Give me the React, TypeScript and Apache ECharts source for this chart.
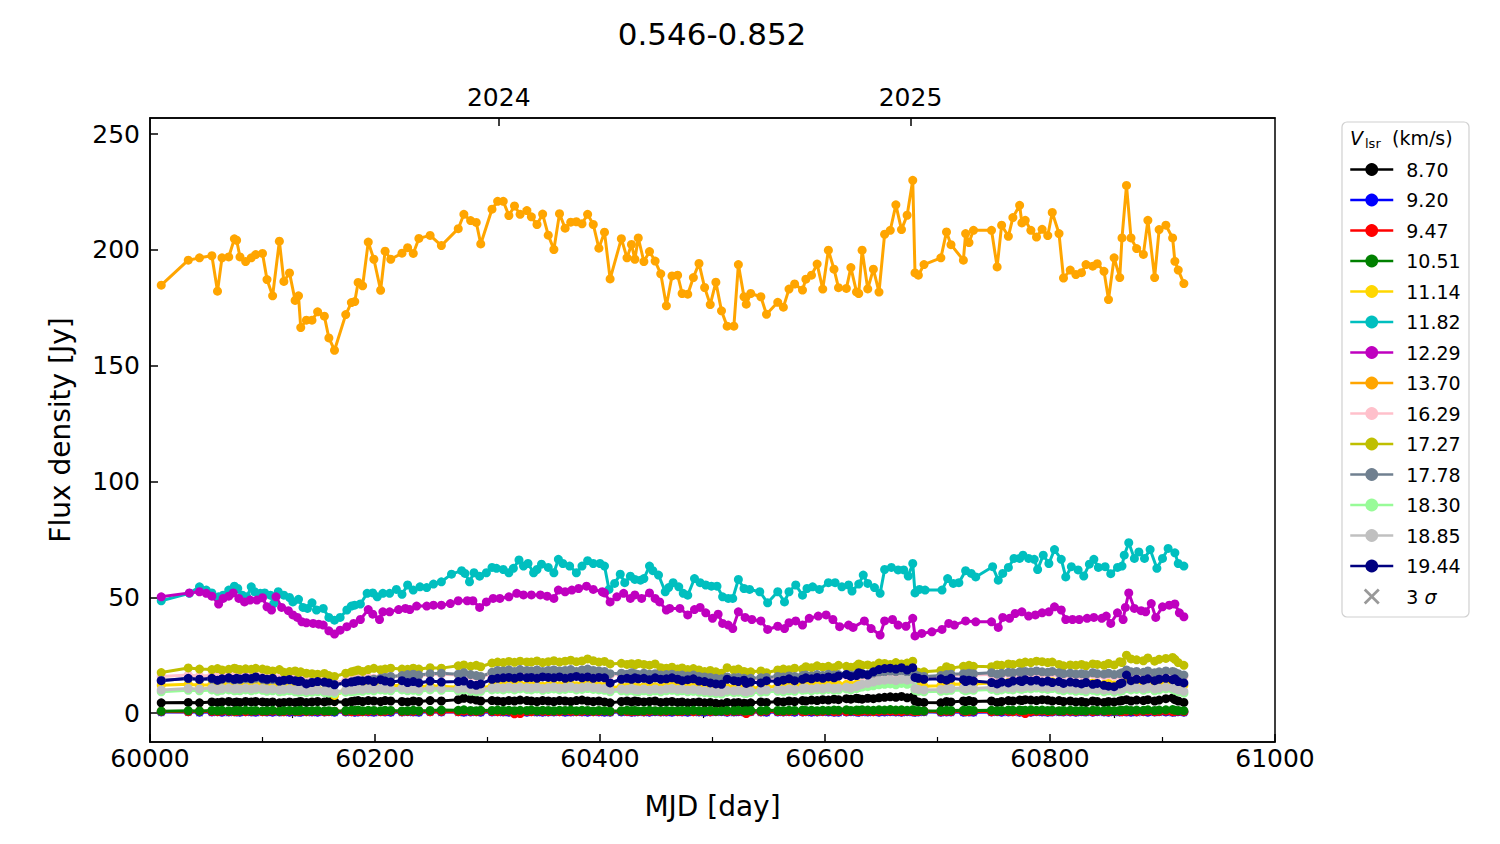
import React, { useEffect, useRef } from "react";
import * as echarts from "echarts";

// observation epochs (MJD) shared by most velocity channels
const EPOCHS = [
  60010, 60034, 60044, 60055, 60060, 60064, 60070, 60075, 60077, 60080,
  60085, 60090, 60094, 60100, 60104, 60109, 60115, 60119, 60124, 60129,
  60132, 60134, 60139, 60144, 60149, 60155, 60159, 60164, 60174, 60179,
  60182, 60185, 60189, 60194, 60199, 60205, 60209, 60214, 60224, 60229,
  60234, 60239, 60249, 60259, 60274, 60279, 60285, 60290, 60294, 60304,
  60309, 60314, 60319, 60324, 60329, 60335, 60339, 60344, 60349, 60354,
  60359, 60364, 60369, 60374, 60379, 60384, 60389, 60394, 60399, 60404,
  60409, 60419, 60424, 60428, 60431, 60434, 60439, 60444, 60449, 60454,
  60459, 60464, 60469, 60473, 60478, 60483, 60488, 60493, 60498, 60503,
  60508, 60513, 60519, 60523, 60528, 60530, 60534, 60543, 60548, 60558,
  60563, 60568, 60573, 60580, 60583, 60588, 60593, 60598, 60603, 60608,
  60612, 60619, 60623, 60628, 60630, 60633, 60638, 60643, 60648, 60653,
  60658, 60663, 60668, 60673, 60678, 60680, 60683, 60688, 60703, 60708,
  60712, 60723, 60725, 60728, 60732, 60748, 60753, 60757, 60763, 60767,
  60773, 60775, 60778, 60783, 60788, 60793, 60798, 60802, 60808, 60812,
  60818, 60823, 60828, 60832, 60838, 60842, 60848, 60852, 60857, 60862,
  60864, 60868, 60872, 60877, 60883, 60887, 60893, 60897, 60903, 60909, 60911, 60914, 60919,
];

const FLUX_1370 = [
  184.8, 195.6, 196.6, 197.5, 182.2, 196.6, 197.0, 204.8, 204.2, 197.0,
  195.0, 196.6, 198.0, 198.5, 187.2, 180.2, 203.8, 186.4, 190.1, 178.2,
  180.2, 166.5, 169.7, 169.7, 173.3, 171.4, 162.0, 156.7, 172.1, 177.3,
  177.7, 186.0, 184.5, 203.4, 196.0, 182.6, 199.5, 196.0, 198.6, 201.0,
  198.5, 205.0, 206.3, 201.9, 209.2, 215.4, 212.7, 211.9, 202.6, 217.6,
  221.0, 221.0, 214.9, 219.0, 215.4, 217.0, 214.3, 211.0, 215.5, 206.4,
  200.2, 215.7, 209.4, 212.0, 212.2, 211.3, 215.4, 211.0, 200.8, 207.7,
  187.5, 204.9, 196.6, 202.4, 196.0, 205.2, 195.0, 199.3, 195.2, 189.7,
  175.9, 188.8, 189.1, 181.2, 180.9, 188.1, 194.2, 183.8, 176.4, 186.1,
  173.7, 167.1, 167.1, 193.7, 179.8, 176.6, 181.2, 179.8, 172.2, 177.4,
  175.3, 183.1, 185.3, 182.7, 187.4, 189.1, 193.9, 183.1, 199.9, 191.7,
  183.7, 183.4, 192.4, 181.9, 181.2, 199.9, 183.2, 191.7, 181.8, 206.8,
  208.5, 219.5, 208.8, 215.0, 230.1, 190.1, 189.1, 193.7, 196.6, 207.8,
  202.3, 195.6, 207.1, 203.2, 208.5, 208.5, 192.7, 210.7, 205.9, 214.0,
  219.3, 211.7, 212.8, 208.5, 205.6, 208.9, 206.2, 216.2, 207.1, 187.9,
  191.3, 189.4, 190.2, 193.7, 193.0, 194.1, 190.8, 178.6, 196.6, 188.1,
  205.2, 227.9, 205.2, 200.6, 198.1, 212.8, 188.1, 208.8, 210.7, 205.2, 195.1, 191.3, 185.5,
];

const FLUX_1182: [number, number][] = [
  [60010, 48.5], [60035, 51.7], [60044, 54.5], [60050, 53.1], [60055, 51.9], [60061, 50.2], [60065, 50.9],
  [60070, 53.1], [60075, 54.8], [60078, 53.8], [60082, 50.9], [60086, 50.2], [60090, 54.5], [60093, 52.4],
  [60098, 51.7], [60102, 51.9], [60107, 50.9], [60110, 47.3], [60114, 52.4], [60119, 50.9], [60124, 49.9],
  [60127, 48.0], [60132, 49.1], [60136, 45.6], [60140, 45.2], [60144, 47.6], [60148, 44.5], [60154, 45.2],
  [60159, 41.3], [60164, 40.1], [60169, 41.3], [60175, 44.5], [60179, 46.2], [60182, 46.6], [60187, 47.1],
  [60193, 51.7], [60198, 51.9], [60202, 50.2], [60207, 51.7], [60213, 51.7], [60219, 53.4], [60224, 51.3],
  [60229, 55.3], [60234, 53.1], [60240, 54.5], [60246, 54.2], [60252, 55.7], [60259, 56.7], [60268, 60.0],
  [60277, 61.5], [60280, 60.3], [60284, 56.7], [60288, 60.6], [60293, 59.1], [60299, 60.6], [60304, 62.9],
  [60308, 62.5], [60314, 62.0], [60319, 60.6], [60323, 62.5], [60328, 66.1], [60332, 63.5], [60336, 64.6],
  [60341, 60.6], [60344, 62.0], [60348, 64.3], [60354, 62.9], [60359, 60.6], [60363, 66.4], [60367, 64.6],
  [60373, 63.5], [60379, 60.6], [60384, 63.5], [60389, 65.8], [60394, 64.6], [60400, 64.6], [60404, 63.5],
  [60408, 53.4], [60413, 56.0], [60418, 60.0], [60422, 56.3], [60427, 59.1], [60431, 57.7], [60436, 57.4],
  [60439, 58.1], [60444, 63.5], [60447, 61.5], [60452, 59.6], [60458, 52.4], [60461, 54.2], [60465, 56.3],
  [60470, 54.5], [60474, 51.7], [60478, 50.9], [60484, 58.1], [60489, 56.3], [60494, 55.3], [60499, 54.8],
  [60504, 54.8], [60509, 50.2], [60514, 49.5], [60518, 49.5], [60523, 57.7], [60528, 53.8], [60533, 53.4],
  [60542, 52.4], [60549, 47.6], [60558, 52.4], [60564, 48.0], [60568, 52.4], [60574, 55.3], [60580, 50.9],
  [60584, 53.8], [60589, 54.5], [60595, 53.4], [60603, 56.3], [60609, 56.3], [60615, 54.5], [60621, 55.3],
  [60624, 52.7], [60630, 55.7], [60634, 59.6], [60638, 56.0], [60644, 54.2], [60649, 51.7], [60653, 62.0],
  [60659, 62.9], [60665, 61.8], [60670, 61.8], [60674, 59.2], [60678, 64.6], [60680, 51.9], [60684, 53.4],
  [60689, 53.1], [60704, 53.1], [60709, 58.1], [60714, 56.0], [60719, 56.3], [60725, 61.5], [60730, 60.3],
  [60734, 58.8], [60749, 63.2], [60754, 57.4], [60758, 60.3], [60763, 62.9], [60768, 66.8], [60773, 66.8],
  [60776, 68.2], [60781, 66.8], [60786, 66.4], [60789, 62.0], [60794, 68.2], [60799, 64.6], [60804, 70.6],
  [60810, 66.4], [60814, 58.8], [60819, 63.2], [60825, 61.8], [60830, 59.2], [60835, 64.3], [60839, 66.4],
  [60843, 62.9], [60849, 63.2], [60854, 60.2], [60860, 62.9], [60864, 63.5], [60866, 68.2], [60870, 73.6],
  [60875, 66.8], [60879, 69.6], [60884, 66.8], [60889, 70.6], [60895, 62.5], [60900, 66.8], [60905, 71.1],
  [60911, 69.2], [60914, 64.6], [60919, 63.5],
];

const FLUX_1229: [number, number][] = [
  [60010, 50.2], [60035, 51.9], [60044, 52.4], [60050, 51.7], [60055, 50.5], [60061, 47.1], [60065, 49.5],
  [60070, 50.5], [60074, 51.9], [60079, 49.5], [60084, 48.0], [60089, 48.8], [60095, 48.8], [60100, 49.8],
  [60104, 45.9], [60108, 44.5], [60112, 50.2], [60117, 45.6], [60123, 44.2], [60127, 42.4], [60131, 41.3],
  [60135, 39.4], [60139, 39.0], [60145, 38.7], [60150, 38.4], [60154, 38.0], [60159, 35.5], [60164, 34.1],
  [60169, 35.8], [60175, 37.3], [60181, 38.7], [60187, 40.4], [60194, 44.7], [60198, 42.7], [60204, 40.4],
  [60207, 43.7], [60213, 43.7], [60221, 44.7], [60227, 45.2], [60231, 44.7], [60237, 46.2], [60246, 46.2],
  [60252, 46.6], [60259, 46.6], [60267, 47.3], [60274, 48.5], [60282, 48.5], [60287, 48.5], [60293, 45.6],
  [60299, 48.0], [60305, 49.5], [60311, 49.5], [60319, 50.2], [60326, 51.7], [60332, 51.0], [60339, 51.0],
  [60347, 51.0], [60353, 50.5], [60359, 49.5], [60363, 53.1], [60369, 52.4], [60375, 53.1], [60381, 53.8],
  [60388, 54.8], [60394, 53.4], [60402, 52.4], [60404, 51.9], [60409, 48.0], [60415, 50.2], [60421, 51.7],
  [60427, 49.5], [60431, 51.0], [60437, 49.5], [60444, 51.9], [60449, 49.5], [60453, 48.0], [60459, 44.5],
  [60462, 45.2], [60471, 45.2], [60478, 42.4], [60484, 44.7], [60489, 45.6], [60494, 43.3], [60500, 40.9],
  [60505, 42.7], [60509, 38.7], [60514, 38.0], [60518, 36.5], [60523, 43.7], [60529, 41.3], [60535, 40.4],
  [60543, 39.8], [60549, 36.1], [60558, 37.5], [60564, 36.5], [60568, 39.0], [60574, 39.8], [60580, 38.0],
  [60586, 40.9], [60594, 41.9], [60601, 42.4], [60607, 40.4], [60613, 37.3], [60621, 38.0], [60625, 37.0],
  [60635, 39.8], [60641, 36.5], [60649, 33.7], [60653, 39.8], [60660, 40.4], [60665, 38.0], [60672, 37.5],
  [60678, 40.9], [60680, 33.3], [60686, 34.4], [60695, 35.1], [60704, 36.1], [60710, 38.7], [60715, 38.0],
  [60725, 39.8], [60734, 39.4], [60748, 39.4], [60754, 37.0], [60758, 41.3], [60764, 40.9], [60769, 43.0],
  [60775, 43.7], [60781, 41.9], [60787, 42.4], [60793, 43.3], [60799, 43.7], [60804, 45.9], [60810, 44.5],
  [60814, 40.4], [60820, 40.4], [60826, 40.4], [60833, 40.9], [60839, 41.3], [60846, 40.9], [60850, 41.9],
  [60854, 38.7], [60860, 43.3], [60865, 40.4], [60867, 45.6], [60870, 51.9], [60875, 45.2], [60881, 44.2],
  [60885, 43.7], [60890, 47.3], [60894, 41.3], [60900, 45.9], [60906, 46.6], [60911, 47.1], [60915, 43.3],
  [60919, 41.6],
];

const FLUX_1727 = [
  17.5, 19.5, 19.0, 18.8, 19.2, 18.6, 18.9, 19.4, 19.0, 18.8,
  19.1, 18.9, 19.3, 19.0, 18.6, 18.2, 18.8, 17.6, 17.9, 18.2,
  17.4, 17.8, 17.2, 17.0, 16.8, 17.1, 16.2, 15.8, 17.2, 17.8,
  18.2, 18.6, 18.0, 18.8, 19.3, 18.7, 19.0, 19.4, 19.0, 18.9,
  19.4, 19.0, 19.6, 19.4, 20.4, 20.8, 20.2, 20.6, 20.0, 21.6,
  22.0, 21.8, 22.3, 21.9, 22.4, 22.1, 22.0, 22.5, 21.8, 22.2,
  22.6, 22.0, 22.4, 22.8, 22.2, 22.5, 23.4, 22.6, 22.0, 22.3,
  21.2, 21.5, 21.0, 21.3, 20.8, 21.4, 21.0, 20.7, 21.2, 19.6,
  19.4, 19.8, 19.0, 19.5, 18.8, 19.2, 18.6, 17.9, 18.4, 17.8,
  17.2, 19.6, 18.6, 19.0, 18.0, 17.5, 17.8, 18.2, 17.4, 18.6,
  19.0, 18.7, 19.4, 19.0, 20.0, 19.6, 20.4, 19.8, 20.2, 19.6,
  20.6, 20.2, 19.8, 20.4, 21.2, 20.6, 20.8, 20.4, 21.6, 21.4,
  21.0, 21.8, 21.2, 21.6, 22.4, 18.0, 17.6, 17.8, 18.4, 20.0,
  19.4, 20.2, 19.8, 20.6, 20.2, 20.0, 20.8, 20.6, 21.2, 21.0,
  21.6, 21.4, 22.0, 21.8, 22.4, 22.2, 21.8, 22.0, 21.0, 20.4,
  20.8, 20.6, 21.0, 20.4, 21.2, 21.0, 20.6, 21.4, 20.8, 22.2,
  21.8, 25.0, 23.4, 23.0, 22.6, 23.8, 22.4, 23.2, 23.6, 24.0, 23.2, 21.8, 20.6,
];

const FLUX_1944 = [
  14.0, 15.0, 14.6, 15.0, 14.2, 14.8, 15.2, 14.6, 15.0, 14.7,
  15.3, 14.9, 15.6, 15.0, 14.6, 15.0, 13.8, 14.2, 14.5, 14.0,
  13.6, 13.8, 12.6, 13.2, 13.6, 13.4, 13.0, 12.2, 13.0, 13.4,
  13.6, 14.0, 13.8, 14.2, 13.6, 14.4, 13.8, 13.4, 14.0, 13.2,
  13.6, 13.0, 13.8, 13.4, 13.6, 13.8, 12.4, 12.0, 12.6, 14.6,
  15.0, 15.2, 15.4, 15.0, 15.6, 15.2, 15.4, 15.0, 15.6, 15.4,
  15.2, 15.6, 15.0, 15.4, 15.8, 15.2, 15.6, 15.0, 15.4, 15.2,
  13.0, 14.6, 15.0, 14.6, 15.2, 14.8, 15.0, 14.4, 15.2, 14.6,
  14.8, 15.2, 14.6, 14.0, 14.4, 14.8, 13.8, 13.6, 13.0, 12.6,
  12.4, 14.6, 14.0, 13.6, 14.2, 12.8, 13.4, 13.0, 14.0, 13.6,
  14.2, 14.8, 14.0, 14.6, 15.2, 14.8, 15.4, 15.0, 15.6, 15.2,
  16.0, 16.6, 15.8, 16.2, 17.4, 17.0, 16.4, 17.8, 18.8, 19.2,
  19.4, 19.0, 19.6, 18.6, 19.6, 15.4, 15.0, 14.6, 14.8, 14.2,
  15.0, 14.4, 13.6, 14.2, 13.8, 13.2, 12.6, 13.4, 13.0, 13.8,
  14.0, 13.6, 14.4, 13.8, 14.2, 13.4, 13.8, 13.2, 13.6, 12.8,
  13.4, 13.0, 12.6, 13.2, 12.4, 12.8, 12.0, 11.6, 11.4, 12.6,
  13.0, 16.4, 14.0, 14.6, 14.2, 14.8, 14.0, 14.6, 15.0, 14.4, 14.8, 13.6, 13.0,
];

const FLUX_1778 = [
  14.2, 14.8, 14.4, 14.6, 14.0, 14.6, 14.8, 14.2, 14.6, 14.4,
  14.8, 14.6, 15.0, 14.6, 14.2, 14.4, 13.6, 14.0, 14.2, 13.8,
  13.4, 13.6, 12.8, 13.2, 13.4, 13.2, 12.8, 12.4, 13.0, 13.4,
  13.8, 14.2, 14.0, 14.4, 14.6, 15.0, 15.4, 15.8, 16.2, 16.6,
  16.8, 16.4, 17.0, 17.2, 16.8, 17.4, 16.6, 16.2, 15.8, 17.6,
  18.4, 18.2, 18.6, 18.0, 18.8, 18.4, 18.2, 18.6, 18.0, 18.4,
  18.6, 18.2, 18.4, 18.8, 18.0, 18.6, 19.0, 18.4, 18.2, 18.0,
  17.0, 17.2, 16.8, 17.4, 17.0, 16.6, 17.2, 16.8, 17.0, 16.4,
  16.6, 16.8, 16.2, 16.4, 16.0, 16.4, 15.8, 15.6, 15.4, 15.0,
  14.8, 15.6, 15.2, 15.4, 15.0, 14.6, 15.0, 15.2, 15.4, 15.8,
  15.6, 16.0, 15.8, 16.2, 16.4, 16.0, 16.6, 16.2, 16.8, 16.4,
  16.6, 16.8, 16.4, 16.8, 17.0, 16.6, 16.8, 17.2, 17.6, 17.8,
  18.0, 17.8, 18.2, 17.6, 18.0, 16.6, 16.0, 15.8, 16.2, 16.6,
  16.8, 17.0, 16.6, 17.2, 17.0, 17.4, 16.8, 17.2, 17.6, 17.4,
  17.8, 17.6, 18.0, 17.8, 18.2, 17.8, 17.6, 18.0, 17.4, 17.0,
  17.2, 16.8, 17.0, 16.6, 17.4, 17.0, 16.8, 17.2, 16.6, 17.0,
  17.4, 18.6, 17.8, 18.0, 17.6, 18.2, 17.4, 17.8, 18.2, 18.0, 17.6, 17.0, 16.4,
];

const FLUX_1629 = [
  15.8, 16.4, 16.0, 16.2, 15.8, 16.0, 16.4, 15.8, 16.2, 16.0,
  16.2, 15.8, 16.4, 16.0, 15.6, 15.8, 15.0, 15.2, 15.4, 15.0,
  14.6, 14.8, 14.0, 14.4, 14.6, 14.2, 13.8, 13.2, 14.0, 14.4,
  14.6, 15.0, 14.8, 15.2, 15.0, 15.4, 15.6, 15.8, 16.0, 16.2,
  16.4, 16.0, 16.6, 16.8, 16.4, 16.8, 16.2, 15.8, 15.6, 17.0,
  17.6, 17.4, 17.8, 17.2, 17.8, 17.6, 17.4, 17.8, 17.2, 17.6,
  17.8, 17.4, 17.6, 18.0, 17.2, 17.8, 18.2, 17.6, 17.4, 17.2,
  16.4, 16.6, 16.2, 16.8, 16.4, 16.0, 16.6, 16.2, 16.4, 15.8,
  16.0, 16.2, 15.6, 15.8, 15.4, 15.8, 15.2, 15.0, 14.8, 14.6,
  14.4, 15.0, 14.6, 14.8, 14.4, 14.2, 14.6, 14.8, 15.0, 15.2,
  15.0, 15.4, 15.2, 15.6, 15.8, 15.4, 16.0, 15.6, 16.2, 15.8,
  16.0, 16.2, 15.8, 16.2, 16.4, 16.0, 16.2, 16.6, 17.0, 17.2,
  17.4, 17.2, 17.6, 17.0, 17.4, 16.0, 15.4, 15.2, 15.6, 16.0,
  16.2, 16.4, 16.0, 16.6, 16.4, 16.8, 16.2, 16.6, 17.0, 16.8,
  17.2, 17.0, 17.4, 17.2, 17.6, 17.2, 17.0, 17.4, 16.8, 16.4,
  16.6, 16.2, 16.4, 16.0, 16.8, 16.4, 16.2, 16.6, 16.0, 16.4,
  16.8, 18.0, 17.2, 17.4, 17.0, 17.6, 16.8, 17.2, 17.6, 17.4, 17.0, 16.4, 15.8,
];

const FLUX_1114 = [
  12.0, 12.4, 12.0, 12.2, 11.8, 12.0, 12.2, 11.8, 12.0, 11.8,
  12.0, 11.6, 12.0, 11.8, 11.4, 11.6, 11.0, 11.2, 11.4, 11.0,
  10.6, 10.8, 10.2, 10.4, 10.2, 9.8, 9.0, 7.6, 9.6, 10.2,
  10.6, 11.0, 10.8, 11.2, 11.0, 11.4, 11.6, 11.8, 12.0, 11.6,
  11.8, 11.4, 11.8, 11.6, 11.2, 11.6, 11.0, 10.8, 11.0, 11.6,
  12.0, 11.8, 12.2, 11.8, 12.2, 12.0, 11.8, 12.2, 11.6, 12.0,
  12.2, 11.8, 12.0, 12.4, 11.8, 12.0, 12.4, 12.0, 11.8, 11.6,
  11.0, 11.4, 11.2, 11.6, 11.2, 11.0, 11.4, 11.0, 11.4, 11.0,
  11.6, 11.8, 11.4, 11.6, 11.2, 11.4, 11.0, 10.8, 10.6, 10.4,
  10.2, 11.0, 10.8, 11.0, 10.6, 10.4, 10.8, 11.0, 11.2, 11.6,
  11.4, 11.8, 11.6, 12.0, 12.2, 11.8, 12.2, 12.0, 12.4, 12.0,
  12.2, 12.4, 12.0, 12.4, 12.6, 12.2, 12.4, 12.8, 13.2, 13.4,
  13.6, 13.4, 13.8, 13.2, 13.6, 12.2, 11.8, 11.6, 11.8, 12.2,
  12.4, 12.6, 12.2, 12.8, 12.6, 13.0, 12.4, 12.8, 13.2, 13.0,
  13.4, 13.2, 13.6, 13.4, 13.8, 13.4, 13.2, 13.6, 13.0, 12.6,
  12.8, 12.4, 12.6, 12.2, 13.0, 12.6, 12.4, 12.8, 12.2, 12.6,
  13.0, 14.0, 13.4, 13.6, 13.2, 13.8, 13.0, 13.4, 13.8, 13.6, 13.2, 12.6, 12.0,
];

const FLUX_1885 = [
  10.0, 10.6, 10.4, 10.8, 10.2, 10.6, 10.8, 10.4, 10.6, 10.4,
  10.8, 10.4, 10.8, 10.6, 10.2, 10.4, 10.0, 10.2, 10.4, 10.0,
  9.8, 10.0, 9.6, 9.8, 10.0, 9.6, 9.4, 9.2, 9.8, 10.0,
  10.2, 10.4, 10.2, 10.6, 10.4, 10.8, 10.6, 10.4, 10.8, 10.4,
  10.6, 10.2, 10.8, 10.6, 10.4, 10.8, 10.2, 10.0, 10.2, 10.8,
  11.0, 10.8, 11.2, 10.8, 11.2, 11.0, 10.8, 11.2, 10.6, 11.0,
  11.2, 10.8, 11.0, 11.4, 10.8, 11.0, 11.4, 11.0, 10.8, 10.6,
  10.0, 10.4, 10.2, 10.6, 10.2, 10.0, 10.4, 10.0, 10.4, 10.0,
  10.4, 10.6, 10.2, 10.4, 10.0, 10.2, 9.8, 9.6, 9.4, 9.2,
  9.0, 9.8, 9.6, 9.8, 9.4, 9.2, 9.6, 9.8, 10.0, 10.2,
  10.0, 10.4, 10.2, 10.6, 10.8, 10.4, 10.8, 10.6, 11.0, 10.6,
  10.8, 11.2, 10.8, 11.4, 12.0, 12.4, 12.8, 13.4, 14.0, 14.2,
  14.4, 14.0, 14.6, 14.2, 14.4, 10.6, 10.2, 10.0, 10.2, 10.4,
  10.6, 10.8, 10.4, 10.8, 10.6, 11.0, 10.4, 10.8, 11.0, 10.8,
  11.2, 11.0, 11.4, 11.2, 11.6, 11.2, 11.0, 11.4, 10.8, 10.4,
  10.6, 10.2, 10.4, 10.0, 10.6, 10.2, 10.0, 10.4, 9.8, 10.2,
  10.4, 11.4, 10.8, 11.0, 10.6, 11.2, 10.4, 10.8, 11.2, 11.0, 10.6, 10.0, 9.4,
];

const FLUX_1830 = [
  9.2, 9.8, 9.6, 10.0, 9.4, 9.8, 10.0, 9.6, 9.8, 9.6,
  10.0, 9.6, 10.0, 9.8, 9.4, 9.6, 9.2, 9.4, 9.6, 9.2,
  9.0, 9.2, 8.8, 9.0, 9.2, 8.8, 8.6, 8.4, 9.0, 9.2,
  9.4, 9.6, 9.4, 9.8, 9.6, 10.0, 9.8, 9.6, 10.0, 9.6,
  9.8, 9.4, 10.0, 9.8, 9.6, 10.0, 9.4, 9.2, 9.4, 10.0,
  10.2, 10.0, 10.4, 10.0, 10.4, 10.2, 10.0, 10.4, 9.8, 10.2,
  10.4, 10.0, 10.2, 10.6, 10.0, 10.2, 10.6, 10.2, 10.0, 9.8,
  9.2, 9.6, 9.4, 9.8, 9.4, 9.2, 9.6, 9.2, 9.6, 9.2,
  9.6, 9.8, 9.4, 9.6, 9.2, 9.4, 9.0, 8.8, 8.6, 8.4,
  8.2, 9.0, 8.8, 9.0, 8.6, 8.4, 8.8, 9.0, 9.2, 9.4,
  9.2, 9.6, 9.4, 9.8, 10.0, 9.6, 10.0, 9.8, 10.2, 9.8,
  10.0, 10.4, 10.0, 10.6, 11.0, 11.2, 11.4, 11.8, 12.2, 12.4,
  12.6, 12.2, 12.8, 12.4, 12.6, 9.8, 9.4, 9.2, 9.4, 9.6,
  9.8, 10.0, 9.6, 10.0, 9.8, 10.2, 9.6, 10.0, 10.2, 10.0,
  10.4, 10.2, 10.6, 10.4, 10.8, 10.4, 10.2, 10.6, 10.0, 9.6,
  9.8, 9.4, 9.6, 9.2, 9.8, 9.4, 9.2, 9.6, 9.0, 9.4,
  9.6, 10.6, 10.0, 10.2, 9.8, 10.4, 9.6, 10.0, 10.4, 10.2, 9.8, 9.2, 8.6,
];

const FLUX_0870 = [
  4.4, 4.6, 4.4, 4.8, 4.6, 4.8, 5.0, 4.6, 4.8, 4.6,
  5.0, 4.8, 5.0, 4.8, 4.6, 4.8, 4.4, 4.6, 4.8, 4.6,
  4.8, 5.0, 4.6, 4.8, 5.0, 4.8, 5.2, 5.0, 4.6, 5.0,
  5.2, 5.4, 5.0, 5.4, 5.2, 5.0, 5.4, 5.2, 5.0, 4.8,
  5.2, 5.0, 5.4, 5.2, 5.8, 6.4, 6.0, 5.6, 5.2, 5.4,
  5.2, 5.0, 5.4, 5.2, 5.6, 5.4, 5.2, 5.0, 5.4, 5.2,
  5.0, 5.4, 5.2, 5.0, 5.4, 5.6, 5.2, 5.0, 5.2, 4.8,
  4.4, 5.0, 5.2, 4.8, 5.2, 5.0, 4.8, 5.0, 5.2, 4.6,
  4.8, 5.0, 4.6, 4.8, 4.4, 4.6, 4.8, 4.4, 4.6, 4.2,
  4.0, 4.6, 4.4, 4.6, 4.2, 4.0, 4.4, 4.8, 4.6, 5.0,
  4.8, 5.2, 5.0, 5.4, 5.2, 5.6, 5.4, 5.8, 5.6, 6.0,
  5.8, 6.2, 6.0, 6.4, 6.2, 6.0, 6.4, 6.2, 6.6, 6.8,
  7.0, 6.8, 7.2, 6.6, 7.0, 5.2, 4.8, 4.6, 4.4, 5.0,
  4.8, 5.2, 5.0, 5.4, 5.0, 5.2, 4.6, 5.0, 5.4, 5.2,
  5.6, 5.4, 5.8, 5.6, 5.4, 5.8, 5.6, 5.2, 5.4, 5.0,
  5.2, 4.8, 5.0, 4.6, 5.2, 5.0, 4.6, 5.0, 4.8, 5.2,
  5.4, 5.8, 5.2, 5.6, 5.4, 5.8, 5.2, 5.6, 6.2, 6.6, 5.8, 5.2, 4.6,
];

const FLUX_1051 = [
  0.8, 1.0, 0.9, 1.1, 1.0, 1.2, 1.0, 0.9, 1.1, 1.0,
  1.2, 1.0, 1.1, 0.9, 1.0, 1.2, 0.8, 1.0, 1.1, 0.9,
  1.0, 1.2, 0.9, 1.0, 1.1, 0.9, 1.0, 0.8, 1.0, 1.2,
  1.1, 1.3, 1.0, 1.2, 1.1, 1.0, 1.2, 1.1, 0.9, 1.0,
  1.2, 1.0, 1.1, 1.3, 1.2, 1.4, 1.1, 1.0, 1.2, 1.1,
  1.3, 1.1, 1.2, 1.0, 1.2, 1.1, 1.3, 1.0, 1.2, 1.1,
  1.0, 1.2, 1.1, 1.3, 1.0, 1.2, 1.1, 0.9, 1.1, 1.0,
  0.8, 1.0, 1.2, 1.0, 1.1, 0.9, 1.0, 1.2, 1.0, 0.9,
  1.1, 1.0, 0.9, 1.1, 1.0, 1.2, 1.0, 0.9, 1.1, 0.8,
  0.9, 1.1, 1.0, 1.2, 0.9, 1.0, 1.1, 1.0, 1.2, 1.1,
  1.0, 1.2, 1.1, 1.3, 1.1, 1.2, 1.0, 1.2, 1.1, 1.3,
  1.2, 1.4, 1.1, 1.3, 1.2, 1.4, 1.3, 1.2, 1.4, 1.3,
  1.5, 1.3, 1.4, 1.2, 1.4, 1.0, 1.1, 0.9, 1.0, 1.2,
  1.1, 1.2, 1.0, 1.3, 1.1, 1.2, 1.0, 1.1, 1.3, 1.2,
  1.3, 1.1, 1.2, 1.4, 1.2, 1.3, 1.1, 1.2, 1.0, 1.1,
  1.2, 1.0, 1.1, 0.9, 1.2, 1.1, 1.0, 1.2, 1.0, 1.1,
  1.2, 1.4, 1.1, 1.3, 1.2, 1.4, 1.1, 1.3, 1.4, 1.5, 1.2, 1.1, 1.0,
];

const FLUX_0920 = [
  0.5, 0.6, 0.4, 0.5, 0.6, 0.4, 0.5, 0.6, 0.5, 0.4,
  0.6, 0.5, 0.4, 0.6, 0.5, 0.4, 0.5, 0.6, 0.4, 0.5,
  0.5, 0.4, 0.6, 0.5, 0.4, 0.5, 0.6, 0.4, 0.5, 0.6,
  0.4, 0.5, 0.6, 0.5, 0.4, 0.6, 0.5, 0.4, 0.5, 0.6,
  0.5, 0.4, 0.6, 0.5, 0.6, 0.4, 0.5, 0.6, 0.4, 0.5,
  0.6, 0.5, 0.4, 0.6, 0.5, 0.4, 0.6, 0.5, 0.4, 0.5,
  0.5, 0.6, 0.4, 0.5, 0.6, 0.5, 0.4, 0.6, 0.5, 0.4,
  0.4, 0.5, 0.6, 0.4, 0.5, 0.6, 0.5, 0.4, 0.6, 0.5,
  0.5, 0.4, 0.6, 0.5, 0.4, 0.6, 0.5, 0.4, 0.5, 0.6,
  0.6, 0.4, 0.5, 0.6, 0.4, 0.5, 0.6, 0.5, 0.4, 0.5,
  0.5, 0.6, 0.4, 0.5, 0.6, 0.4, 0.5, 0.6, 0.5, 0.4,
  0.4, 0.5, 0.6, 0.5, 0.4, 0.6, 0.5, 0.6, 0.4, 0.5,
  0.6, 0.5, 0.4, 0.6, 0.5, 0.4, 0.5, 0.6, 0.4, 0.5,
  0.5, 0.4, 0.6, 0.5, 0.4, 0.5, 0.6, 0.4, 0.5, 0.6,
  0.4, 0.6, 0.5, 0.4, 0.6, 0.5, 0.4, 0.5, 0.6, 0.5,
  0.5, 0.4, 0.6, 0.5, 0.4, 0.6, 0.5, 0.4, 0.6, 0.5,
  0.6, 0.5, 0.4, 0.5, 0.6, 0.4, 0.5, 0.6, 0.5, 0.4, 0.5, 0.6, 0.4,
];

const FLUX_0947 = [
  0.7, 0.6, 0.8, 0.7, 0.6, 0.8, 0.7, 0.6, 0.7, 0.8,
  0.6, 0.7, 0.8, 0.6, 0.7, 0.8, 0.7, 0.6, 0.8, 0.7,
  0.7, 0.8, 0.6, 0.7, 0.8, 0.6, 0.7, 0.8, 0.7, 0.6,
  0.8, 0.7, 0.6, 0.7, 0.8, 0.6, 0.7, 0.8, 0.6, 0.7,
  0.7, 0.8, 0.6, 0.7, 0.6, 0.8, 0.7, 0.6, 0.8, 0.7,
  0.6, 0.7, 0.8, -0.3, -0.2, 0.7, 0.6, 0.8, 0.7, 0.6,
  0.7, 0.6, 0.8, 0.7, 0.6, 0.7, 0.8, 0.6, 0.7, 0.8,
  0.6, 0.8, 0.7, 0.6, 0.8, 0.7, 0.6, 0.7, 0.8, 0.6,
  0.7, 0.8, 0.6, 0.7, 0.8, 0.6, 0.7, 0.8, 0.6, 0.7,
  0.8, 0.6, 0.7, 0.8, 0.6, -0.2, 0.7, 0.6, 0.8, 0.7,
  0.6, 0.7, 0.8, 0.6, 0.7, 0.8, 0.6, 0.7, 0.8, 0.6,
  0.7, 0.6, 0.8, 0.7, 0.6, 0.8, 0.7, 0.6, 0.7, 0.8,
  0.8, 0.7, 0.6, 0.8, 0.7, 0.6, 0.7, 0.8, 0.6, 0.7,
  0.7, 0.8, 0.6, 0.7, 0.8, 0.6, 0.7, 0.8, 0.7, 0.6,
  0.6, 0.7, -0.2, 0.6, 0.7, 0.8, 0.6, 0.7, 0.8, 0.7,
  0.7, 0.6, 0.8, 0.7, 0.6, 0.8, 0.7, 0.6, 0.8, 0.7,
  0.6, 0.7, 0.8, 0.6, 0.7, 0.8, 0.6, 0.7, 0.8, 0.6, 0.7, 0.8, 0.6,
];

// 3 sigma upper limits (non-detections)
const SIGMA3 = [
  0.0, 0.1, -0.1, 0.0, 0.1, 0.0, -0.1, 0.1, 0.0, 0.0,
  0.1, 0.0, -0.1, 0.0, 0.1, 0.0, 0.0, -0.1, 0.1, 0.0,
  0.0, 0.1, 0.0, -0.1, 0.0, 0.1, 0.0, 0.0, 0.1, -0.1,
  0.0, 0.0, 0.1, 0.0, -0.1, 0.0, 0.1, 0.0, 0.0, 0.1,
  -0.1, 0.0, 0.1, 0.0, 0.0, -0.1, 0.1, 0.0, 0.0, 0.1,
  0.0, -0.1, 0.0, 0.1, 0.0, 0.0, 0.1, -0.1, 0.0, 0.0,
  0.1, 0.0, 0.0, -0.1, 0.1, 0.0, 0.0, 0.1, 0.0, -0.1,
  0.0, 0.1, 0.0, 0.0, -0.1, 0.1, 0.0, 0.0, 0.1, 0.0,
  -0.1, 0.0, 0.1, 0.0, 0.0, 0.1, -0.1, 0.0, 0.0, 0.1,
  0.0, 0.0, -0.1, 0.1, 0.0, 0.0, 0.1, 0.0, -0.1, 0.0,
  0.1, 0.0, 0.0, 0.1, -0.1, 0.0, 0.0, 0.1, 0.0, 0.0,
  -0.1, 0.1, 0.0, 0.0, 0.1, 0.0, -0.1, 0.0, 0.1, 0.0,
  0.0, 0.1, -0.1, 0.0, 0.0, 0.1, 0.0, 0.0, -0.1, 0.1,
  0.0, 0.0, 0.1, 0.0, -0.1, 0.0, 0.1, 0.0, 0.0, 0.1,
  -0.1, 0.0, 0.0, 0.1, 0.0, 0.0, -0.1, 0.1, 0.0, 0.0,
  0.1, 0.0, -0.1, 0.0, 0.1, 0.0, 0.0, 0.1, -0.1, 0.0,
  0.0, 0.1, 0.0, -0.1, 0.0, 0.1, 0.0, 0.0, 0.1, -0.1, 0.0, 0.1, 0.0,
];

const VELOCITIES = [
  "8.70", "9.20", "9.47", "10.51", "11.14", "11.82", "12.29",
  "13.70", "16.29", "17.27", "17.78", "18.30", "18.85", "19.44",
];
const COLORS = [
  "#000000", "#0000ff", "#ff0000", "#008000", "#ffd700", "#00bfbf", "#bf00bf",
  "#ffa500", "#ffc0cb", "#bfbf00", "#708090", "#98fb98", "#c0c0c0", "#000080",
];

const Y_TICKS = [0, 50, 100, 150, 200, 250];
const YEAR_TICKS = [60310, 60676];
const YEAR_LABELS = ["2024", "2025"];
const HALF_YEAR_TICKS = [60126, 60492, 60857];

const FONT = "DejaVu Sans";
const CROSS =
  "path://M0,1.2L1.2,0L5,3.8L8.8,0L10,1.2L6.2,5L10,8.8L8.8,10L5,6.2L1.2,10L0,8.8L3.8,5Z";

const App: React.FC = () => {
  const chartRef = useRef<HTMLDivElement>(null);

  useEffect(() => {
    const chart = echarts.init(chartRef.current as HTMLDivElement, undefined, {
      renderer: "svg",
    });
    const onEpochs = (values: number[]) => EPOCHS.map((mjd, i) => [mjd, values[i]]);
    const seriesData = [
      onEpochs(FLUX_0870), onEpochs(FLUX_0920), onEpochs(FLUX_0947), onEpochs(FLUX_1051),
      onEpochs(FLUX_1114), FLUX_1182, FLUX_1229, onEpochs(FLUX_1370), onEpochs(FLUX_1629),
      onEpochs(FLUX_1727), onEpochs(FLUX_1778), onEpochs(FLUX_1830), onEpochs(FLUX_1885),
      onEpochs(FLUX_1944),
    ];

    const axisLine = { show: true, onZero: false, lineStyle: { color: "#000", width: 1.5 } };

    const option: echarts.EChartsOption = {
      animation: false,
      backgroundColor: "#fff",
      title: {
        text: "0.546-0.852",
        left: 707,
        top: 13,
        textAlign: "center",
        textStyle: { fontFamily: FONT, fontSize: 31, fontWeight: "normal", color: "#000" },
      },
      grid: {
        left: 150,
        right: 225,
        top: 118,
        bottom: 102,
        show: true,
        borderColor: "#000",
        borderWidth: 1.5,
        outerBoundsMode: "none",
      } as any,
      legend: {
        orient: "vertical",
        left: 1349,
        top: 160,
        padding: 0,
        itemWidth: 43,
        itemHeight: 16,
        itemGap: 11.5,
        z: 10,
        data: [...VELOCITIES, "3 σ"],
        lineStyle: { width: 2.5 },
        textStyle: {
          fontFamily: FONT,
          fontSize: 19,
          color: "#000",
          padding: [0, 0, 0, 8],
          rich: { i: { fontFamily: FONT, fontSize: 19, fontStyle: "italic", color: "#000" } },
        },
        formatter: (name: string) => (name === "3 σ" ? "3 {i|σ}" : name),
      },
      graphic: [
        {
          type: "rect",
          z: 1,
          shape: { x: 1342, y: 122, width: 127, height: 495, r: 5 },
          style: { fill: "#fff", stroke: "#d0d0d0", lineWidth: 1.2 },
        },
        {
          type: "text",
          z: 11,
          x: 1350,
          y: 138,
          style: { text: "V", fontFamily: FONT, fontSize: 19, fontStyle: "italic", fill: "#000", verticalAlign: "middle" },
        },
        {
          type: "text",
          z: 11,
          x: 1365,
          y: 143,
          style: { text: "lsr", fontFamily: FONT, fontSize: 13, fill: "#000", verticalAlign: "middle" },
        },
        {
          type: "text",
          z: 11,
          x: 1392,
          y: 138,
          style: { text: "(km/s)", fontFamily: FONT, fontSize: 19, fill: "#000", verticalAlign: "middle" },
        },
      ],
      xAxis: [
        {
          type: "value",
          position: "bottom",
          min: 60000,
          max: 61000,
          interval: 200,
          name: "MJD [day]",
          nameLocation: "middle",
          nameGap: 50,
          nameTextStyle: { fontFamily: FONT, fontSize: 28, color: "#000" },
          axisLine,
          axisTick: { show: true, inside: true, length: 8, lineStyle: { color: "#000", width: 1.5 } },
          minorTick: { show: true, splitNumber: 2, length: 5, lineStyle: { color: "#000", width: 1.2 } },
          axisLabel: {
            fontFamily: FONT,
            fontSize: 25,
            color: "#000",
            margin: 4,
            formatter: (v: number) => String(v),
          },
          splitLine: { show: false },
        },
        {
          type: "value",
          position: "top",
          min: 60000,
          max: 61000,
          axisLine,
          axisTick: {
            show: true,
            inside: true,
            length: 8,
            customValues: YEAR_TICKS,
            lineStyle: { color: "#000", width: 1.5 },
          },
          axisLabel: {
            fontFamily: FONT,
            fontSize: 25,
            color: "#000",
            margin: 8,
            customValues: YEAR_TICKS,
            formatter: (v: number) => YEAR_LABELS[YEAR_TICKS.indexOf(v)] ?? "",
          },
          splitLine: { show: false },
        } as any,
        {
          type: "value",
          position: "top",
          min: 60000,
          max: 61000,
          axisLine: { show: false },
          axisTick: {
            show: true,
            inside: true,
            length: 5,
            customValues: HALF_YEAR_TICKS,
            lineStyle: { color: "#000", width: 1.2 },
          },
          axisLabel: { show: false },
          splitLine: { show: false },
        } as any,
      ],
      yAxis: {
        type: "value",
        min: -12.5,
        max: 257,
        name: "Flux density [Jy]",
        nameLocation: "middle",
        nameGap: 76,
        nameTextStyle: { fontFamily: FONT, fontSize: 28, color: "#000" },
        axisLine,
        axisTick: {
          show: true,
          inside: true,
          length: 8,
          customValues: Y_TICKS,
          lineStyle: { color: "#000", width: 1.5 },
        },
        axisLabel: { fontFamily: FONT, fontSize: 25, color: "#000", margin: 10, customValues: Y_TICKS },
        splitLine: { show: false },
      } as any,
      series: [
        {
          name: "3 σ",
          type: "scatter",
          data: onEpochs(SIGMA3),
          symbol: CROSS,
          symbolSize: 7,
          itemStyle: { color: "#808080" },
          emphasis: { disabled: true },
          silent: true,
        },
        ...VELOCITIES.map((name, i) => ({
          name,
          type: "line" as const,
          data: seriesData[i],
          symbol: "circle",
          symbolSize: 9,
          itemStyle: { color: COLORS[i] },
          lineStyle: { color: COLORS[i], width: 3 },
          emphasis: { disabled: true },
          silent: true,
        })),
      ],
    };

    chart.setOption(option);
    return () => {
      chart.dispose();
    };
  }, []);

  return (
    <div
      ref={chartRef}
      style={{ position: "fixed", left: 0, top: 0, width: "1500px", height: "844px" }}
    />
  );
};

export default App;
